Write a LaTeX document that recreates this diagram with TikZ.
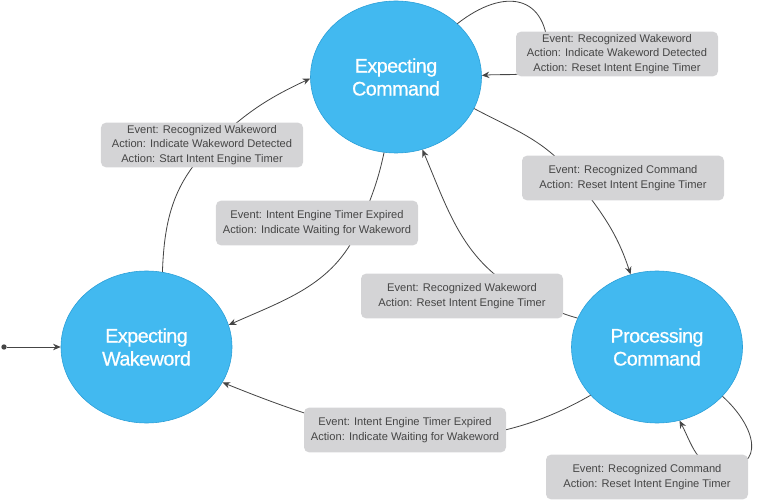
\documentclass[tikz,border=0pt]{standalone}
\usepackage{fontspec}
\setmainfont{Liberation Sans}
\newfontfamily\statefont[FakeBold=0.6, LetterSpace=-2.5]{Liberation Sans}
\usepackage{xcolor}
\usetikzlibrary{shapes.geometric, arrows.meta}
\definecolor{stateblue}{HTML}{42B9F0}
\definecolor{stateedge}{HTML}{2A9FD8}
\definecolor{boxgray}{HTML}{D4D4D6}
\definecolor{linegray}{HTML}{454545}

\begin{document}
\begin{tikzpicture}[x=0.03cm, y=0.03cm,
  state/.style={ellipse, draw=stateedge, line width=0.5pt, fill=stateblue, minimum width=5.13cm, minimum height=4.56cm, inner sep=0pt, align=center, text=white, font=\statefont\fontsize{16.8}{19.6}\selectfont},
  trans/.style={rectangle, rounded corners=0.15cm, fill=boxgray, minimum width=6.06cm, minimum height=1.34cm, inner sep=0pt, align=center, text=linegray, font=\fontsize{9.5}{12.4}\selectfont},
  conn/.style={draw=linegray, line width=0.7pt, -{Stealth[length=6.5pt,width=5.5pt]}}]
\useasboundingbox (0,0) rectangle (758,502);

\node[state] (cmd) at (396,425) {Expecting\\Command};
\node[state] (wake) at (146.5,155) {Expecting\\Wakeword};
\node[state] (proc) at (657,155) {Processing\\Command};
\node[circle, fill=linegray, inner sep=0pt, minimum size=0.16cm] (init) at (4,155) {};

\draw[conn] (init) -- (wake.west);
\draw[conn] (wake.78) to[out=88, in=224] (212,357) to[out=44, in=205] (cmd.181);
\draw[conn] (cmd.261) to[out=258, in=68] (361,279) to[out=248, in=24] (wake.15);
\draw[conn] (cmd.338) to[out=-28, in=128] (575,324) to[out=-52, in=108] (proc.110);
\draw[conn] (proc.160) to[out=165, in=-28] (524,208) to[out=152, in=-67] (cmd.290);
\draw[conn] (proc.216) to[out=210, in=-22] (wake.335);
\draw[conn] (proc.323) to[out=-42, in=0, looseness=1.6] (722,34) to[out=180, in=-62] (proc.287);
\draw[conn] (cmd.41) to[out=38, in=90, looseness=1.6] (548,448) to[out=-105, in=5] (cmd.1);

\node[trans] (cmdloop) at (617,448) {Event: Recognized Wakeword\\Action: Indicate Wakeword Detected\\Action: Reset Intent Engine Timer};
\node[trans] (wakeup) at (202,357) {Event: Recognized Wakeword\\Action: Indicate Wakeword Detected\\Action: Start Intent Engine Timer};
\node[trans] (timeout) at (317,279) {Event: Intent Engine Timer Expired\\Action: Indicate Waiting for Wakeword};
\node[trans] (command) at (623,324) {Event: Recognized Command\\Action: Reset Intent Engine Timer};
\node[trans] (rewake) at (462,206) {Event: Recognized Wakeword\\Action: Reset Intent Engine Timer};
\node[trans] (proctimeout) at (405,72) {Event: Intent Engine Timer Expired\\Action: Indicate Waiting for Wakeword};
\node[trans] (procloop) at (647,25) {Event: Recognized Command\\Action: Reset Intent Engine Timer};

\end{tikzpicture}
\end{document}
